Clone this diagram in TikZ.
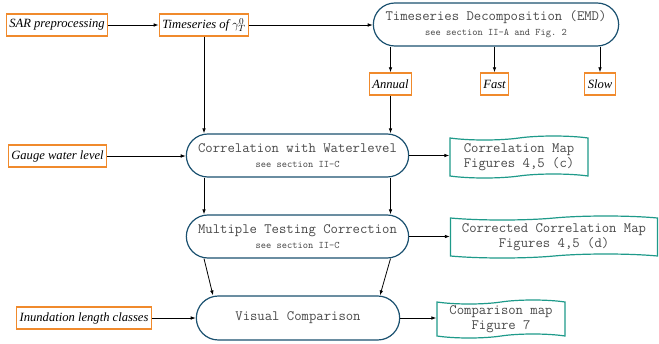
\documentclass[tikz,border=0pt]{standalone}
\usepackage{fontspec}
\setmainfont{Liberation Serif}
\setmonofont{Latin Modern Mono}
\usetikzlibrary{shapes.misc,shapes.symbols,arrows.meta,calc}
\definecolor{orng}{HTML}{F08A2C}
\definecolor{dblue}{HTML}{1B5170}
\definecolor{tealc}{HTML}{1E9A8A}
\definecolor{txtg}{HTML}{4A4A4A}
\tikzset{
  databox/.style={draw=orng, line width=1.4pt, fill=white, inner xsep=3pt, inner ysep=0pt,
    minimum height=22pt, font=\fontsize{12.6}{14}\selectfont\itshape},
  procbox/.style={rounded rectangle, draw=dblue, line width=1.2pt, fill=white, minimum height=43pt,
    align=center, text=txtg, font=\fontsize{14.3}{15}\ttfamily},
  docbox/.style={tape, tape bend height=4pt, draw=tealc, line width=1.2pt, fill=white,
    align=center, text=txtg, font=\fontsize{14.3}{15}\ttfamily, inner ysep=1pt},
  conn/.style={-{Latex[length=5pt,width=3.6pt]}, line width=0.8pt, black},
}
\newcommand{\smalltt}[1]{{\fontsize{10}{11}\ttfamily #1}}
\begin{document}
\begin{tikzpicture}[x=1pt,y=-1pt]
\useasboundingbox (0,0) rectangle (659,343);
% inputs
\node[databox] (sar) at (57,25) {SAR preprocessing};
\node[databox] (ts) at (204,25) {Timeseries of $\gamma^{0}_{T}$};
\node[procbox, minimum width=252pt] (emd) at (496,24.5) {Timeseries Decomposition (EMD)\\[0pt]\smalltt{see section II-A and Fig. 2}};
\node[databox] (annual) at (390.5,84) {Annual};
\node[databox] (fast) at (494.5,84) {Fast};
\node[databox] (slow) at (600,84) {Slow};
\node[procbox, minimum width=229pt] (corr) at (297.5,155.5) {Correlation with Waterlevel\\[0pt]\smalltt{see section II-C}};
\node[databox] (gauge) at (57.5,156) {Gauge water level};
\node[docbox, minimum width=138pt, minimum height=42pt] (cmap) at (519,157) {Correlation Map\\Figures 4,5 (c)};
\node[procbox, minimum width=229pt] (mtc) at (297.5,236.5) {Multiple Testing Correction\\[0pt]\smalltt{see section II-C}};
\node[docbox, minimum width=207pt, minimum height=42pt] (ccmap) at (554,237) {Corrected Correlation Map\\Figures 4,5 (d)};
\node[procbox, minimum width=210pt, minimum height=44pt] (vc) at (298,318) {Visual Comparison};
\node[databox] (inund) at (84,318) {Inundation length classes};
\node[docbox, minimum width=128pt, minimum height=38pt] (comp) at (501,319) {Comparison map\\Figure 7};
% connectors
\draw[conn] (sar) -- (ts);
\draw[conn] (ts) -- (ts -| emd.west);
\draw[conn] (emd.south -| annual) -- (annual.north);
\draw[conn] (emd.south -| fast) -- (fast.north);
\draw[conn] (emd.south -| slow) -- (slow.north);
\draw[conn] (ts.south) -- (ts.south |- corr.north);
\draw[conn] (annual.south) -- (annual.south |- corr.north);
\draw[conn] (gauge) -- (gauge -| corr.west);
\draw[conn] (corr.east) -- (corr.east -| cmap.west);
\draw[conn] (corr.south -| ts) -- (mtc.north -| ts);
\draw[conn] (corr.south -| annual) -- (mtc.north -| annual);
\draw[conn] (mtc.east) -- (mtc.east -| ccmap.west);
\draw[conn] (mtc.south -| ts) -- ([xshift=-85pt]vc.north);
\draw[conn] (mtc.south -| annual) -- ([xshift=82pt]vc.north);
\draw[conn] (inund) -- (inund -| vc.west);
\draw[conn] (vc.east) -- (vc.east -| comp.west);
\end{tikzpicture}
\end{document}
